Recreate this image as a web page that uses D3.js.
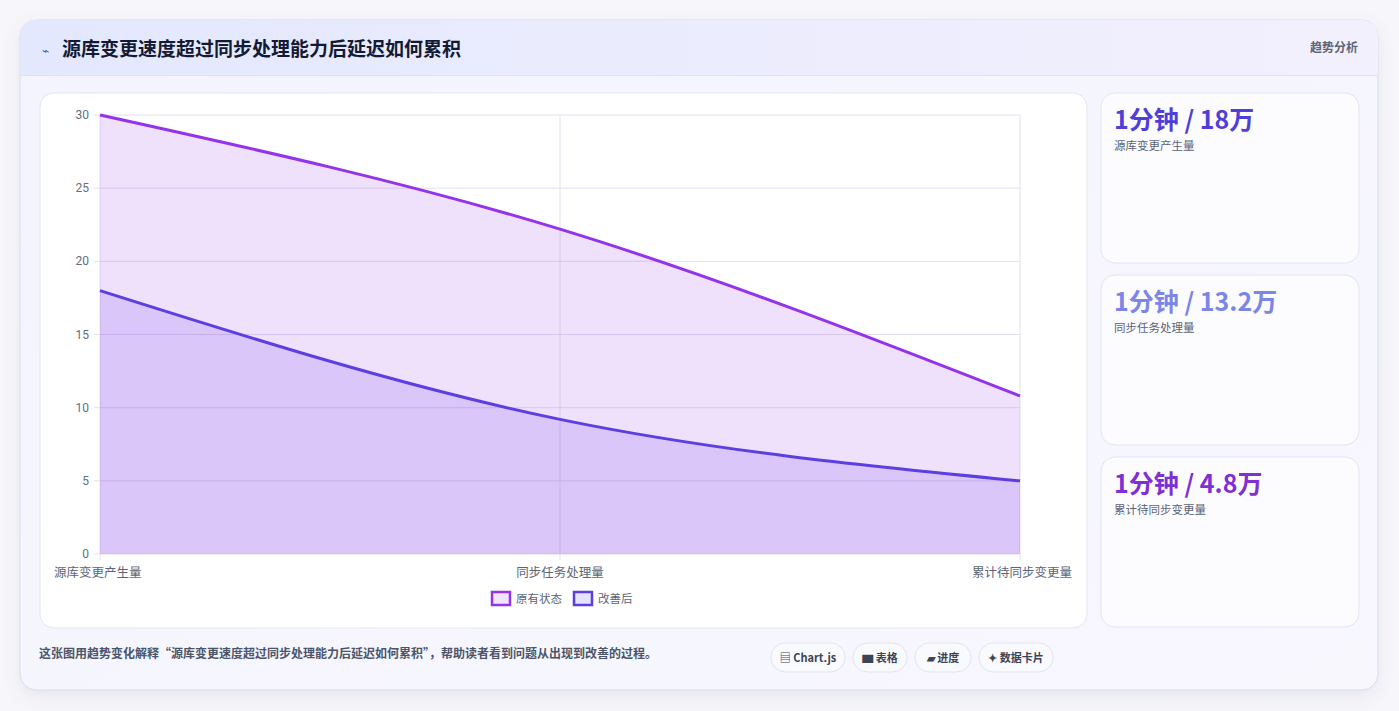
<!DOCTYPE html>
<html><head><meta charset="utf-8">
<script src="https://cdn.jsdelivr.net/npm/d3@7/dist/d3.min.js"></script>
<style>
body{margin:0;width:1399px;height:711px;background:#f7f7fb;font-family:"Noto Sans CJK SC","Noto Sans",sans-serif;overflow:hidden}
svg{position:absolute;left:0;top:0}
</style></head><body>
<svg id="c" width="1399" height="711"></svg>
<script>
const categories=["源库变更产生量","同步任务处理量","累计待同步变更量"];
const seriesNames=["原有状态","改善后"];
const original=[30,22.2,10.8];
const improved=[18,9.2,5.0];
const yTicks=[0,5,10,15,20,25,30];
const cards=[["1分钟 / 18万","源库变更产生量","#4f3fd9"],["1分钟 / 13.2万","同步任务处理量","#7b86e8"],["1分钟 / 4.8万","累计待同步变更量","#7e2fd6"]];
const chips=["▤ Chart.js","▆ 表格","▰ 进度","✦ 数据卡片"];

const svg=d3.select("#c");
const defs=svg.append("defs");
const hg=defs.append("linearGradient").attr("id","hg");
hg.append("stop").attr("offset","0").attr("stop-color","#e3e8fe");
hg.append("stop").attr("offset","1").attr("stop-color","#f3f0fd");
const bg=defs.append("linearGradient").attr("id","bg").attr("x1",0).attr("y1",0).attr("x2",1).attr("y2",1);
bg.append("stop").attr("offset","0").attr("stop-color","#f3f4fe");
bg.append("stop").attr("offset","1").attr("stop-color","#f8f7fe");
const f=defs.append("filter").attr("id","sh").attr("x","-10%").attr("y","-10%").attr("width","120%").attr("height","130%");
f.append("feDropShadow").attr("dx",0).attr("dy",6).attr("stdDeviation",8).attr("flood-color","#667").attr("flood-opacity",0.12);

svg.append("rect").attr("x",20).attr("y",20).attr("width",1358).attr("height",670).attr("rx",16).attr("fill","url(#bg)").attr("stroke","#d5dbf3").attr("filter","url(#sh)");
svg.append("path").attr("d","M20,75 V36 a16,16 0 0 1 16,-16 H1362 a16,16 0 0 1 16,16 V75 Z").attr("fill","url(#hg)");
svg.append("line").attr("x1",20).attr("x2",1378).attr("y1",75.5).attr("y2",75.5).attr("stroke","#dde2f5");
svg.append("text").attr("x",42).attr("y",55).attr("font-size",12).attr("fill","#3b5bdb").text("⌁");
svg.append("text").attr("x",62).attr("y",56).attr("font-size",19).attr("font-weight",700).attr("fill","#141a33").text("源库变更速度超过同步处理能力后延迟如何累积");
svg.append("text").attr("x",1358).attr("y",52).attr("text-anchor","end").attr("font-size",12).attr("font-weight",700).attr("fill","#5b6478").text("趋势分析");

svg.append("rect").attr("x",40).attr("y",93).attr("width",1047).attr("height",535).attr("rx",14).attr("fill","#fff").attr("stroke","#e2e6f2");

const x=d3.scalePoint().domain(categories).range([100,1020]);
const y=d3.scaleLinear().domain([0,30]).range([554,115]);
const g=svg.append("g");
yTicks.forEach(t=>g.append("line").attr("x1",94).attr("x2",1020).attr("y1",y(t)).attr("y2",y(t)).attr("stroke","#e4e0ee"));
categories.forEach(c=>g.append("line").attr("x1",x(c)).attr("x2",x(c)).attr("y1",115).attr("y2",560).attr("stroke","#e4e0ee"));
yTicks.forEach(t=>g.append("text").attr("x",89).attr("y",y(t)+4).attr("text-anchor","end").attr("font-size",12).attr("fill","#666d80").attr("font-family","Roboto, sans-serif").text(t));
categories.forEach((c,i)=>g.append("text").attr("x",x(c)).attr("y",577).attr("text-anchor",i==0?"start":i==2?"end":"middle").attr("dx",i==0?-46:i==2?52:0).attr("font-size",12.5).attr("fill","#5b6478").text(c));

const series=[[original,"#9333ea","rgba(147,51,234,0.15)"],[improved,"#5b3fe0","rgba(120,80,235,0.18)"]];
series.forEach(([vals,stroke,fill])=>{
  const pts=vals.map((v,i)=>[x(categories[i]),y(v)]);
  g.append("path").attr("d",d3.area().x(d=>d[0]).y0(y(0)).y1(d=>d[1]).curve(d3.curveMonotoneX)(pts)).attr("fill",fill);
});
series.forEach(([vals,stroke])=>{
  const pts=vals.map((v,i)=>[x(categories[i]),y(v)]);
  g.append("path").attr("d",d3.line().curve(d3.curveMonotoneX)(pts)).attr("fill","none").attr("stroke",stroke).attr("stroke-width",3);
});
// legend
const lg=[[492,"#9333ea","#f1e4fd"],[574,"#5b3fe0","#e6e4fb"]];
lg.forEach(([lx,s,fl],i)=>{
  g.append("rect").attr("x",lx).attr("y",592).attr("width",18).attr("height",13).attr("fill",fl).attr("stroke",s).attr("stroke-width",2.5);
  g.append("text").attr("x",lx+24).attr("y",603).attr("font-size",11.5).attr("fill","#5b6478").text(seriesNames[i]);
});

cards.forEach(([v,l,c],i)=>{
  const cy=93+i*182;
  svg.append("rect").attr("x",1101).attr("y",cy).attr("width",258).attr("height",170).attr("rx",14).attr("fill","#fcfcff").attr("stroke","#e0e5f4");
  svg.append("text").attr("x",1114).attr("y",cy+36).attr("font-size",25).attr("font-weight",700).attr("fill",c).text(v);
  svg.append("text").attr("x",1114).attr("y",cy+57).attr("font-size",11.5).attr("fill","#5b6478").text(l);
});

svg.append("text").attr("x",39).attr("y",658).attr("font-size",12).attr("font-weight",700).attr("fill","#4b5468").text("这张图用趋势变化解释“源库变更速度超过同步处理能力后延迟如何累积”，帮助读者看到问题从出现到改善的过程。");
const cx=[771,853,915,979],cw=[74,54,56,74];
chips.forEach((t,i)=>{
  svg.append("rect").attr("x",cx[i]).attr("y",643).attr("width",cw[i]).attr("height",29).attr("rx",14.5).attr("fill","#f9fafe").attr("stroke","#e0e4f0");
  svg.append("text").attr("x",cx[i]+cw[i]/2).attr("y",662).attr("text-anchor","middle").attr("font-size",11).attr("font-weight",700).attr("fill","#3c4457").text(t);
});
</script></body></html>
